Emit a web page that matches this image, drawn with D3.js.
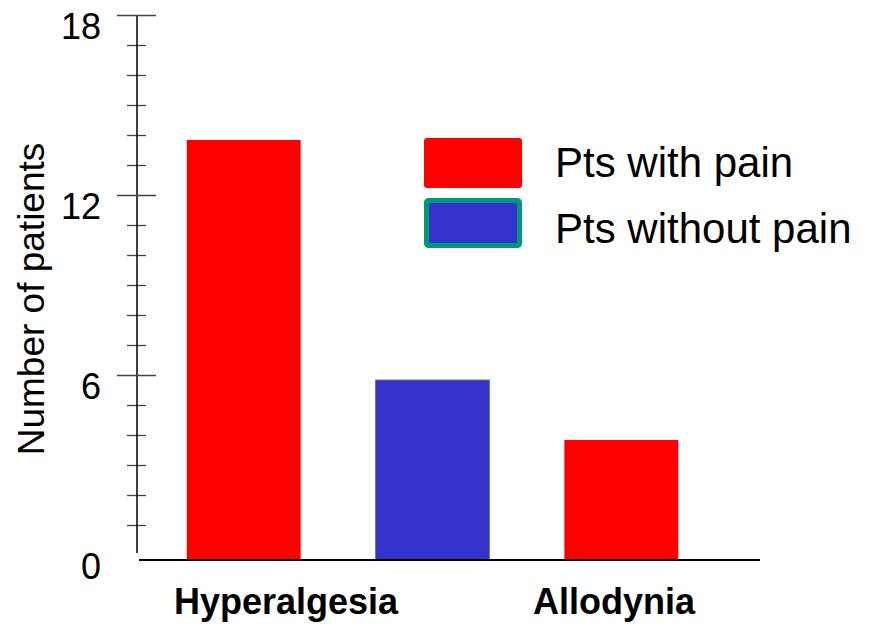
<!DOCTYPE html>
<html><head><meta charset="utf-8">
<script src="https://cdn.jsdelivr.net/npm/d3@7"></script>
<style>body{margin:0;background:#fff;} svg{display:block;font-family:"Liberation Sans",Arial,sans-serif;}</style>
</head><body>
<svg id="chart" width="870" height="624"></svg>
<script>
// ---- data ----
const categories = ["Hyperalgesia", "Allodynia"];
const barKeys = ["Hyperalgesia – with pain", "Hyperalgesia – without pain", "Allodynia – with pain"];
const barValues = [14, 6, 4];
const barSeries = ["with", "without", "with"];
const seriesNames = ["Pts with pain", "Pts without pain"];
const majorTicks = [0, 6, 12, 18];
const minorTicks = [1,2,3,4,5,7,8,9,10,11,13,14,15,16,17];
const yLabel = "Number of patients";

const colors = {with: "#ff0000", without: "#3333cc"};

const svg = d3.select("#chart");

// bar scale (baseline at 560)
const y = d3.scaleLinear().domain([0, 18]).range([560, 20]);
const x = d3.scaleBand().domain(barKeys).range([149, 716]).paddingInner(0.3968).paddingOuter(0.2);
const xCat = d3.scalePoint().domain(categories).range([286, 614]);

// bars
svg.append("g").selectAll("rect").data(barValues).join("rect")
  .attr("x", (d, i) => x(barKeys[i]))
  .attr("width", x.bandwidth())
  .attr("y", d => y(d))
  .attr("height", d => y(0) - y(d))
  .attr("fill", (d, i) => colors[barSeries[i]])
  .attr("stroke", (d, i) => barSeries[i] === "without" ? "#777" : "none")
  .attr("stroke-width", 1);

// y axis (drawn 5px above bar baseline, as in the reference)
const yAxisScale = d3.scaleLinear().domain([0, 18]).range([555, 15]);
const gMinor = svg.append("g").attr("transform", "translate(137,0)")
  .call(d3.axisLeft(yAxisScale).tickValues(minorTicks).tickSize(10).tickFormat(""));
gMinor.select(".domain").remove();
gMinor.selectAll(".tick line").attr("x1", -10).attr("x2", 9).attr("stroke", "#444").attr("stroke-width", 1.3);

const gMajor = svg.append("g").attr("transform", "translate(137,0)")
  .call(d3.axisLeft(yAxisScale).tickValues(majorTicks).tickSize(20).tickSizeOuter(0).tickFormat(d3.format("d")));
gMajor.select(".domain").attr("d", `M0,${yAxisScale(18)}V${yAxisScale(0) - 2}`).attr("stroke", "#000").attr("stroke-width", 1.5);
gMajor.selectAll(".tick line").attr("x1", -20).attr("x2", 19).attr("stroke", "#444").attr("stroke-width", 1.3)
  .attr("display", d => d === 0 ? "none" : null);
gMajor.selectAll(".tick text").attr("x", -36).attr("dy", "0.64em")
  .attr("font-size", 36).attr("font-family", "Liberation Sans, Arial, sans-serif").attr("fill", "#000");

// baseline
svg.append("line").attr("x1", 139).attr("x2", 760).attr("y1", y(0)).attr("y2", y(0))
  .attr("stroke", "#000").attr("stroke-width", 2);

// category labels
svg.append("g").selectAll("text").data(categories).join("text")
  .attr("x", d => xCat(d)).attr("y", 614)
  .attr("text-anchor", "middle").attr("font-size", 36).attr("font-weight", "bold")
  .text(d => d);

// y label
svg.append("text").attr("transform", "translate(44,299) rotate(-90)")
  .attr("text-anchor", "middle").attr("font-size", 37).text(yLabel);

// legend
const leg = svg.append("g");
const legY = [138, 198];
leg.append("rect").attr("x", 424).attr("y", legY[0]).attr("width", 98).attr("height", 50).attr("rx", 3)
  .attr("fill", colors.with);
leg.append("rect").attr("x", 426.5).attr("y", legY[1] + 2.5).attr("width", 93).attr("height", 45).attr("rx", 2)
  .attr("fill", colors.without).attr("stroke", "#009977").attr("stroke-width", 5);
leg.selectAll("text").data(seriesNames).join("text")
  .attr("x", 555).attr("y", (d, i) => [177, 243][i])
  .attr("font-size", 42).text(d => d);
</script>
</body></html>
